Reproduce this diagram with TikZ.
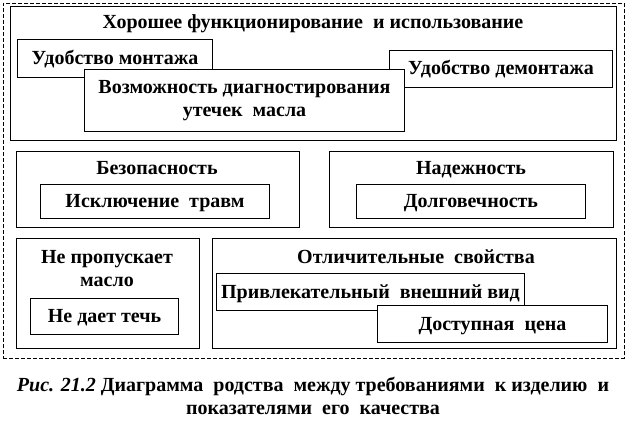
\documentclass[tikz,border=0pt]{standalone}
\usepackage{fontspec}
\setmainfont{Liberation Serif}
\begin{document}
\begin{tikzpicture}[x=1pt, y=-1pt,
  frame/.style={draw, line width=0.8pt, dash pattern=on 4pt off 2pt},
  group/.style={draw, line width=1pt, anchor=north west, inner sep=0pt},
  item/.style={draw, line width=1pt, fill=white, anchor=north west,
               inner sep=0pt, align=center, font=\fontsize{20}{23}\selectfont\bfseries},
  ttl/.style={inner sep=0pt, align=center, font=\fontsize{20}{23}\selectfont\bfseries},
  oneline/.style={text height=15pt, text depth=3pt},
]
\useasboundingbox (0,0) rectangle (627,425);
\node[frame, anchor=north west, minimum width=621pt, minimum height=355pt, inner sep=0pt] (all) at (3,3) {};

% first row
\node[group, minimum width=606pt, minimum height=134pt] (use) at (10,6) {};
\node[ttl, oneline] (usettl) at (313,23) {Хорошее функционирование\ \ и использование};
\node[item, oneline, minimum width=195pt, minimum height=38pt] (mount) at (17,39) {Удобство монтажа};
\node[item, oneline, minimum width=223pt, minimum height=37pt] (demount) at (389,50) {Удобство демонтажа};
\node[item, minimum width=320pt, minimum height=62pt] (diag) at (84,69)
  {Возможность диагностирования\\утечек\ \ масла};

% second row
\node[group, minimum width=283pt, minimum height=76pt] (safe) at (16,151) {};
\node[ttl, oneline] (safettl) at (157,169) {Безопасность};
\node[item, oneline, minimum width=229pt, minimum height=34pt] (injury) at (40,184) {Исключение\ \ травм};
\node[group, minimum width=284pt, minimum height=76pt] (rel) at (329,151) {};
\node[ttl, oneline] (relttl) at (471,169) {Надежность};
\node[item, oneline, minimum width=229pt, minimum height=34pt] (life) at (356,184) {Долговечность};

% third row
\node[group, minimum width=183pt, minimum height=110pt] (oil) at (16,238) {};
\node[ttl] (oilttl) at (107,269) {Не пропускает\\масло};
\node[item, oneline, minimum width=148pt, minimum height=36pt] (leak) at (30,298) {Не дает течь};
\node[group, minimum width=404pt, minimum height=110pt] (dist) at (212,238) {};
\node[ttl, oneline] (distttl) at (416,257) {Отличительные\ \ свойства};
\node[item, oneline, minimum width=308pt, minimum height=37pt] (look) at (216,273) {Привлекательный\ \ внешний вид};
\node[item, oneline, minimum width=230pt, minimum height=37pt] (price) at (377,305) {Доступная\ \ цена};

% caption
\node[ttl] (cap) at (313,396)
  {\textit{Рис. 21.2} Диаграмма\ \ родства\ \ между требованиями\ \ к изделию\ \ и\\показателями\ \ его\ \ качества};
\end{tikzpicture}
\end{document}
